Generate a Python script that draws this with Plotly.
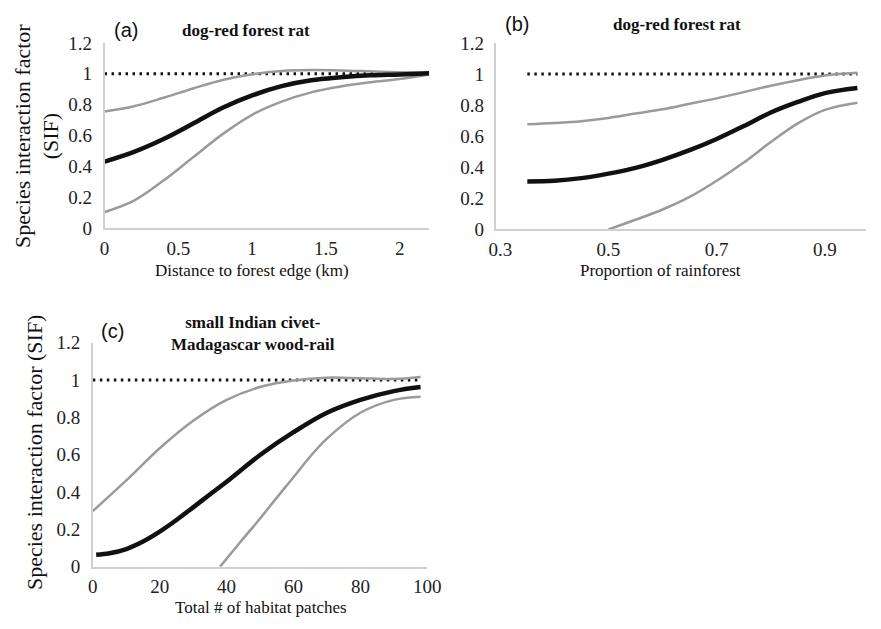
import plotly.graph_objects as go

W, H = 881, 629

# ---- Panel (a): distance to forest edge ----
a_x = [0, 0.2, 0.4, 0.6, 0.8, 1.0, 1.2, 1.4, 1.6, 1.8, 2.0, 2.2]
a_mean = [0.432, 0.495, 0.578, 0.678, 0.78, 0.86, 0.92, 0.958, 0.977, 0.99, 0.996, 1.004]
a_upper = [0.756, 0.79, 0.845, 0.905, 0.96, 0.997, 1.018, 1.024, 1.022, 1.016, 1.01, 1.006]
a_lower = [0.106, 0.18, 0.31, 0.46, 0.61, 0.735, 0.82, 0.88, 0.918, 0.945, 0.966, 0.995]
a_ref_x = [0, 2.2]

# ---- Panel (b): proportion of rainforest ----
b_x = [0.35, 0.4, 0.45, 0.5, 0.55, 0.6, 0.65, 0.7, 0.75, 0.8, 0.85, 0.9, 0.96]
b_mean = [0.309, 0.313, 0.33, 0.359, 0.396, 0.448, 0.51, 0.582, 0.665, 0.752, 0.82, 0.877, 0.91]
b_upper = [0.676, 0.684, 0.696, 0.717, 0.745, 0.773, 0.808, 0.843, 0.883, 0.924, 0.96, 0.99, 1.007]
b_lower_x = [0.5, 0.55, 0.6, 0.65, 0.7, 0.75, 0.8, 0.85, 0.9, 0.96]
b_lower = [0.0, 0.062, 0.128, 0.209, 0.313, 0.43, 0.562, 0.682, 0.769, 0.815]
b_ref_x = [0.35, 0.96]

# ---- Panel (c): total # of habitat patches ----
c_x = [1, 5, 10, 15, 20, 25, 30, 35, 40, 50, 60, 70, 80, 90, 98]
c_mean = [0.064, 0.072, 0.095, 0.135, 0.188, 0.25, 0.318, 0.387, 0.455, 0.598, 0.72, 0.824, 0.893, 0.94, 0.962]
c_upper_x = [0, 10, 20, 30, 40, 50, 60, 70, 80, 90, 98]
c_upper = [0.298, 0.462, 0.634, 0.781, 0.893, 0.962, 0.997, 1.012, 1.009, 1.005, 1.016]
c_lower_x = [38, 44, 50, 55, 60, 65, 70, 80, 90, 98]
c_lower = [0.0, 0.13, 0.258, 0.37, 0.479, 0.59, 0.686, 0.824, 0.893, 0.91]
c_ref_x = [0, 98]

y_ticks = [0, 0.2, 0.4, 0.6, 0.8, 1.0, 1.2]
y_ticktext = ["0", "0.2", "0.4", "0.6", "0.8", "1", "1.2"]

BLACK = "#111111"
GRAY = "#9a9a9a"
AXIS = "#d0d0d0"
SERIF = "Liberation Serif"
SANS = "Liberation Sans"

fig = go.Figure()


def add_panel(xa, ya, xs, mean, up_x, up, lo_x, lo, ref_x):
    fig.add_trace(go.Scatter(x=ref_x, y=[1, 1], mode="lines", xaxis=xa, yaxis=ya,
                             line=dict(color=BLACK, width=3, dash="2.5px,4.5px"),
                             showlegend=False, hoverinfo="skip"))
    fig.add_trace(go.Scatter(x=up_x, y=up, mode="lines", xaxis=xa, yaxis=ya,
                             line=dict(color=GRAY, width=2.5, shape="spline", smoothing=1.0),
                             showlegend=False))
    fig.add_trace(go.Scatter(x=lo_x, y=lo, mode="lines", xaxis=xa, yaxis=ya,
                             line=dict(color=GRAY, width=2.5, shape="spline", smoothing=1.0),
                             showlegend=False))
    fig.add_trace(go.Scatter(x=xs, y=mean, mode="lines", xaxis=xa, yaxis=ya,
                             line=dict(color=BLACK, width=4.5, shape="spline", smoothing=1.0),
                             showlegend=False))


add_panel("x", "y", a_x, a_mean, a_x, a_upper, a_x, a_lower, a_ref_x)
add_panel("x2", "y2", b_x, b_mean, b_x, b_upper, b_lower_x, b_lower, b_ref_x)
add_panel("x3", "y3", c_x, c_mean, c_upper_x, c_upper, c_lower_x, c_lower, c_ref_x)


def px(x):
    return x / W


def py(y):
    return 1 - y / H


tickfont = dict(family=SERIF, size=19, color="#222222")
common_x = dict(showgrid=False, zeroline=False, showline=True, linecolor=AXIS, linewidth=1.5,
                ticks="", tickfont=tickfont, fixedrange=True, ticklabelstandoff=2)
common_y = dict(showgrid=False, zeroline=False, showline=True, linecolor=AXIS, linewidth=1.5,
                ticks="", tickfont=tickfont, tickvals=y_ticks, ticktext=y_ticktext,
                range=[0, 1.2], fixedrange=True, ticklabelstandoff=7)

fig.update_layout(
    width=W, height=H,
    margin=dict(l=0, r=0, t=0, b=0),
    paper_bgcolor="white", plot_bgcolor="white",
    xaxis=dict(domain=[px(99), px(432)], range=[0, 2.2], anchor="y",
               tickvals=[0, 0.5, 1, 1.5, 2], ticktext=["0", "0.5", "1", "1.5", "2"], **common_x),
    yaxis=dict(domain=[py(226), py(34)], anchor="x", **common_y),
    xaxis2=dict(domain=[px(501), px(880)], range=[0.293, 0.976], anchor="y2",
                tickvals=[0.3, 0.5, 0.7, 0.9], ticktext=["0.3", "0.5", "0.7", "0.9"], **common_x),
    yaxis2=dict(domain=[py(227), py(34)], anchor="x2", **common_y),
    xaxis3=dict(domain=[px(87), px(430)], range=[0, 100], anchor="y3",
                tickvals=[0, 20, 40, 60, 80, 100], ticktext=["0", "20", "40", "60", "80", "100"], **common_x),
    yaxis3=dict(domain=[py(576), py(344)], anchor="x3", **common_y),
)

ann = []


def text(x, y, s, size, family=SERIF, bold=False, rot=0):
    ann.append(dict(x=px(x), y=py(y), xref="paper", yref="paper", text=(f"<b>{s}</b>" if bold else s),
                    showarrow=False, xanchor="center", yanchor="middle", textangle=rot,
                    font=dict(family=family, size=size, color="#111111")))


# panel labels
text(121, 21, "(a)", 20, SANS)
text(522, 15, "(b)", 20, SANS)
text(107, 332, "(c)", 20, SANS)
# titles
text(244, 21, "dog-red forest rat", 17, bold=True)
text(686, 15, "dog-red forest rat", 17, bold=True)
text(251, 335, "small Indian civet-<br>Madagascar wood-rail", 17, bold=True)
# x-axis titles
text(250, 270, "Distance to forest edge (km)", 17)
text(669, 270, "Proportion of rainforest", 17)
text(259, 618, "Total # of habitat patches", 17)
# y-axis titles
text(29, 130, "Species interaction factor<br>(SIF)", 22, rot=-90)
text(27, 457, "Species interaction factor (SIF)", 22, rot=-90)

fig.update_layout(annotations=ann)

fig.write_html("out.html")
